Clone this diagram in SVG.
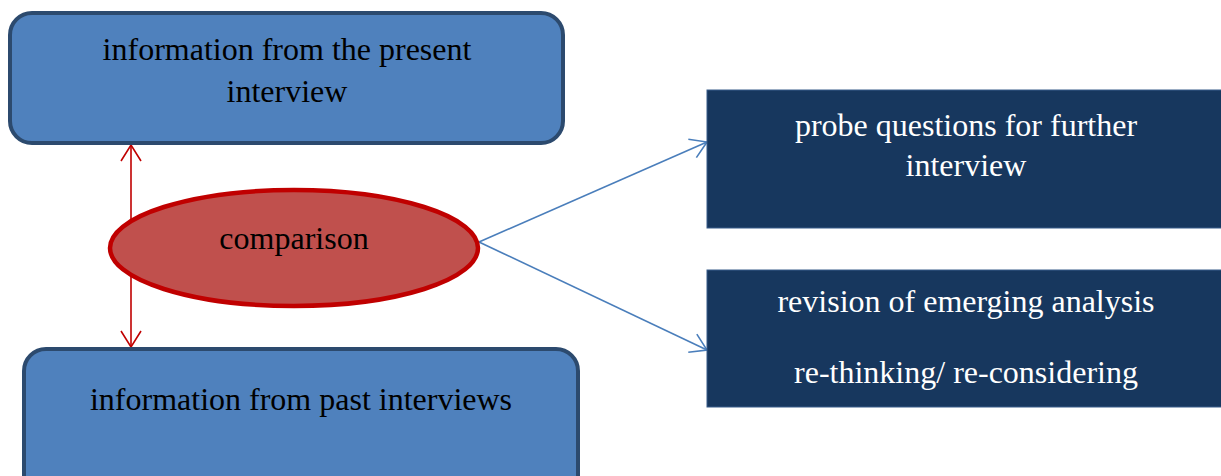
<svg xmlns="http://www.w3.org/2000/svg" width="1221" height="476" viewBox="0 0 1221 476">
<defs>
<style>
.lbox{fill:#4f81bd;stroke:#2c4a6e;stroke-width:4}
.dbox{fill:#17375e;stroke:#385d8a;stroke-width:1}
.t{font-family:"Liberation Serif","Times New Roman",serif;font-size:32px;text-anchor:middle}
.dark{fill:#000}
.light{fill:#fff}
.red{stroke:#c00000;stroke-width:1.6;fill:none}
.blue{stroke:#4a7ebb;stroke-width:1.6;fill:none}
</style>
<marker id="ar" markerWidth="20" markerHeight="22" refX="17" refY="11" orient="auto-start-reverse" markerUnits="userSpaceOnUse">
<path d="M1,1 L17,11 L1,21" fill="none" stroke="#c00000" stroke-width="1.6"/>
</marker>
<marker id="ab" markerWidth="20" markerHeight="22" refX="17" refY="11" orient="auto" markerUnits="userSpaceOnUse">
<path d="M1,1 L17,11 L1,21" fill="none" stroke="#4a7ebb" stroke-width="1.6"/>
</marker>
</defs>
<rect width="1221" height="476" fill="#fff"/>
<g id="connectors">
<line class="red" x1="131" y1="145" x2="131" y2="347" marker-start="url(#ar)" marker-end="url(#ar)"/>
<line class="blue" x1="479" y1="242" x2="707" y2="142" marker-end="url(#ab)"/>
<line class="blue" x1="479" y1="242" x2="707" y2="350" marker-end="url(#ab)"/>
</g>
<g id="node-present">
<rect class="lbox" x="10" y="13" width="553" height="130" rx="22"/>
<text class="t dark" x="287" y="60">information from the present</text>
<text class="t dark" x="287" y="102">interview</text>
</g>
<g id="node-past">
<rect class="lbox" x="24" y="349" width="554" height="150" rx="22"/>
<text class="t dark" x="301" y="410">information from past interviews</text>
</g>
<g id="node-comparison">
<ellipse cx="294" cy="248" rx="184" ry="58" fill="#c0504d" stroke="#c00000" stroke-width="4.5"/>
<text class="t dark" x="294" y="249">comparison</text>
</g>
<g id="node-probe">
<rect class="dbox" x="707" y="90" width="520" height="138"/>
<text class="t light" x="966" y="136">probe questions for further</text>
<text class="t light" x="966" y="176">interview</text>
</g>
<g id="node-revision">
<rect class="dbox" x="707" y="270" width="520" height="137"/>
<text class="t light" x="966" y="312">revision of emerging analysis</text>
<text class="t light" x="966" y="383">re-thinking/ re-considering</text>
</g>
</svg>
